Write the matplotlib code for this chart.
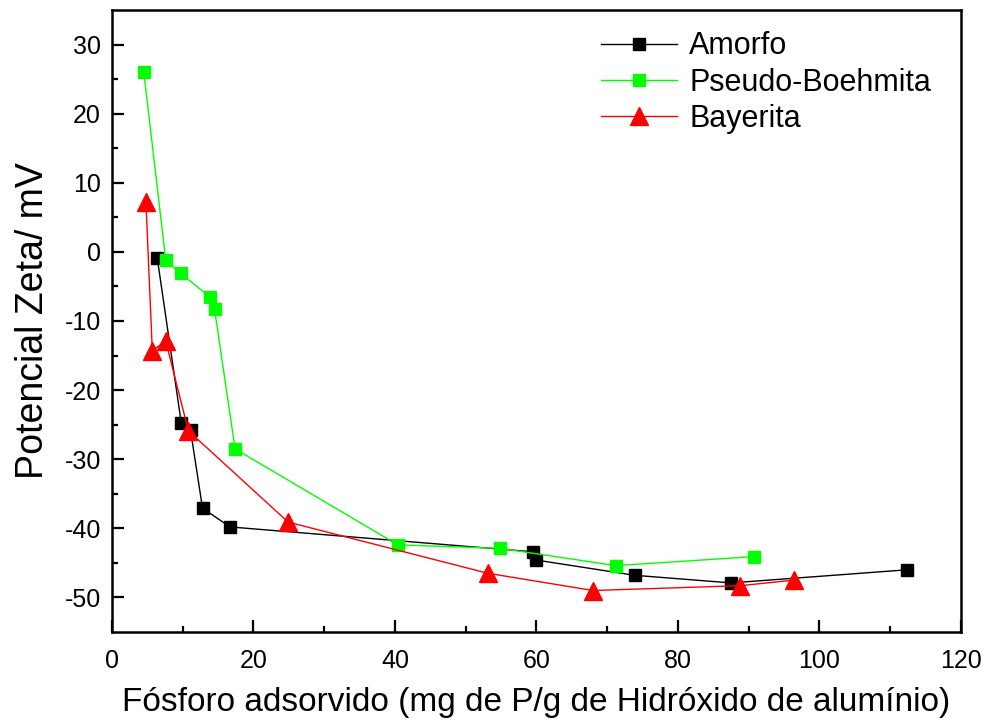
import numpy as np
import matplotlib
matplotlib.use('Agg')
import matplotlib.pyplot as plt

plt.rcParams['font.family'] = ['Liberation Sans', 'DejaVu Sans']
plt.rcParams['axes.unicode_minus'] = False

# Potencial zeta vs. fósforo adsorvido para cada hidróxido de alumínio
amorfo_x = [6.4, 9.8, 11.1, 12.8, 16.7, 59.5, 60.0, 73.9, 87.5, 112.4]
amorfo_y = [-0.9, -24.8, -25.8, -37.1, -39.8, -43.4, -44.6, -46.8, -47.9, -46.0]

pseudo_x = [4.5, 7.6, 9.7, 13.8, 14.5, 17.4, 40.4, 54.9, 71.2, 90.7]
pseudo_y = [26.0, -1.2, -3.1, -6.5, -8.3, -28.5, -42.4, -42.9, -45.4, -44.1]

bayer_x = [4.8, 5.7, 7.6, 10.8, 24.9, 53.1, 68.0, 88.8, 96.4]
bayer_y = [7.2, -14.3, -12.9, -25.9, -39.1, -46.5, -49.0, -48.3, -47.5]

fig = plt.figure(figsize=(9.84, 7.25), dpi=100)
ax = fig.add_axes([0.1138, 0.1283, 0.8628, 0.8579])

ax.plot(amorfo_x, amorfo_y, '-s', color='black', lw=1, ms=8.5, label='Amorfo')
ax.plot(pseudo_x, pseudo_y, '-s', color='#00ff00', mec='#00ff00', lw=1, ms=8.5,
        label='Pseudo-Boehmita')
ax.plot(bayer_x, bayer_y, '-^', color='#ff0000', mec='#ff0000', lw=1, ms=13,
        label='Bayerita')

ax.set_xlim(0, 120)
ax.set_ylim(-55, 35)
ax.set_xticks(np.arange(0, 121, 20))
ax.set_xticks(np.arange(10, 120, 20), minor=True)
ax.set_yticks(np.arange(-50, 31, 10))
ax.set_yticks(np.arange(-45, 35, 10), minor=True)

ax.tick_params(which='major', direction='in', length=8.5, width=1.6,
               labelsize=18, pad=8)
ax.tick_params(axis='x', which='major', pad=12)
ax.tick_params(which='minor', direction='in', length=4.5, width=1.6)
for s in ax.spines.values():
    s.set_linewidth(1.8)

ax.set_xlabel('Fósforo adsorvido (mg de P/g de Hidróxido de alumínio)',
              fontsize=24, labelpad=10)
ax.set_ylabel('Potencial Zeta/ mV', fontsize=27, labelpad=10)

ax.legend(loc='upper right', bbox_to_anchor=(0.99, 1.0), frameon=False,
          fontsize=22, handlelength=2.5, handletextpad=0.4, labelspacing=0.2,
          borderaxespad=0.3)

fig.savefig('out.png', dpi=100)
